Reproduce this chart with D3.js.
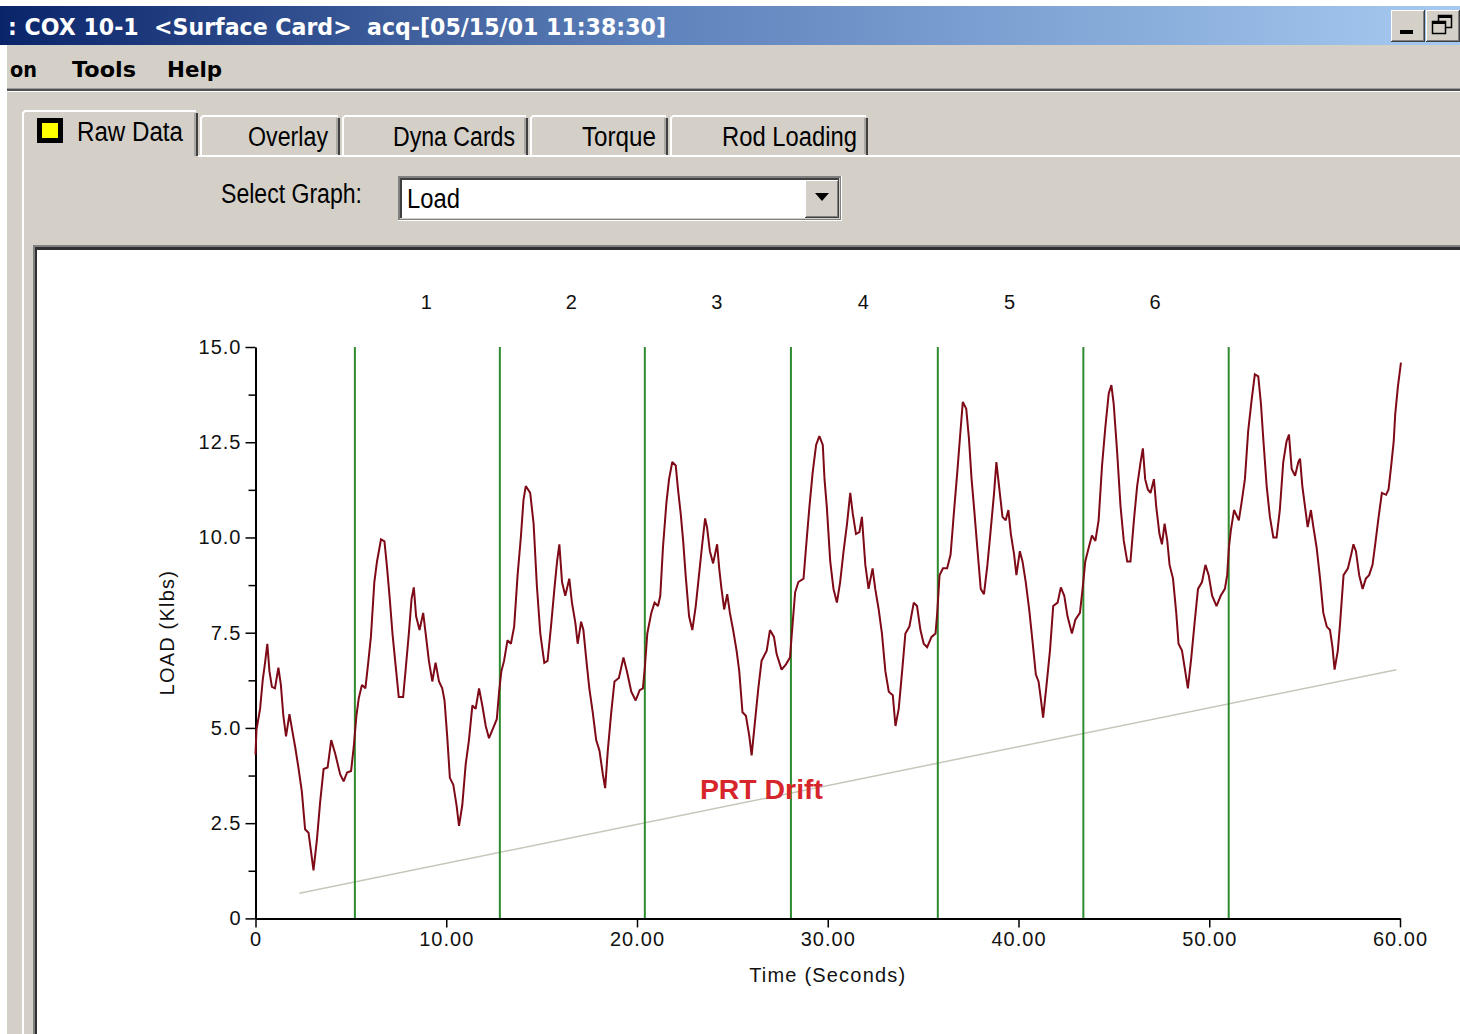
<!DOCTYPE html>
<html>
<head>
<meta charset="utf-8">
<script src="https://cdn.jsdelivr.net/npm/d3@7"></script>
<style>
  html, body { margin: 0; padding: 0; background: #ffffff; }
  svg { display: block; }
</style>
</head>
<body>
<div id="app"></div>
<script>
// ---- Load trace (time in seconds, load in Klbs) ----
const timeSec = [
  0.00,0.05,0.24,0.38,0.50,0.62,0.73,0.86,1.02,1.20,1.33,1.46,1.60,1.78,1.92,2.08,2.25,2.43,2.60,2.78,
  2.90,3.04,3.22,3.39,3.57,3.78,3.97,4.18,4.44,4.62,4.80,5.01,5.15,5.29,5.41,5.58,5.76,5.90,6.05,6.23,
  6.37,6.58,6.76,6.90,7.04,7.18,7.34,7.51,7.74,7.88,8.04,8.18,8.30,8.42,8.60,8.79,8.92,9.09,9.27,9.44,
  9.62,9.79,9.91,10.05,10.19,10.37,10.54,10.67,10.84,11.02,11.19,11.37,11.54,11.72,11.89,12.07,12.24,12.42,12.65,12.77,
  12.89,13.03,13.21,13.39,13.56,13.74,13.91,14.05,14.17,14.40,14.58,14.75,14.93,15.14,15.31,15.49,15.67,15.81,15.93,16.07,
  16.24,16.45,16.59,16.77,16.89,17.07,17.19,17.33,17.50,17.68,17.86,18.03,18.21,18.33,18.47,18.65,18.82,19.05,19.29,19.47,
  19.70,19.93,20.14,20.31,20.41,20.54,20.75,20.92,21.10,21.22,21.36,21.54,21.68,21.85,22.03,22.15,22.29,22.42,22.55,22.73,
  22.90,23.08,23.25,23.40,23.57,23.67,23.82,23.99,24.20,24.31,24.43,24.57,24.73,24.87,25.04,25.22,25.36,25.53,25.71,25.89,
  26.01,26.18,26.36,26.53,26.80,26.97,27.18,27.32,27.58,27.81,28.02,28.16,28.29,28.46,28.73,28.86,29.04,29.21,29.39,29.56,
  29.74,29.83,29.95,30.13,30.30,30.48,30.65,30.83,31.01,31.18,31.31,31.48,31.66,31.79,31.97,32.14,32.35,32.49,32.67,32.84,
  33.02,33.20,33.41,33.55,33.72,33.90,34.07,34.28,34.51,34.68,34.86,35.03,35.21,35.44,35.65,35.74,35.86,36.04,36.26,36.44,
  36.61,36.79,36.93,37.08,37.26,37.40,37.54,37.68,37.84,38.02,38.19,38.37,38.54,38.72,38.84,38.98,39.16,39.33,39.47,39.60,
  39.77,39.89,40.07,40.21,40.38,40.56,40.73,40.91,41.05,41.17,41.29,41.47,41.65,41.82,42.05,42.22,42.40,42.57,42.80,42.98,
  43.22,43.36,43.50,43.68,43.85,44.03,44.20,44.38,44.55,44.73,44.87,44.99,45.17,45.35,45.52,45.70,45.87,46.05,46.22,46.40,
  46.52,46.64,46.78,46.92,47.10,47.22,47.39,47.52,47.66,47.80,47.92,48.10,48.27,48.39,48.57,48.74,48.88,49.06,49.23,49.41,
  49.62,49.80,49.97,50.15,50.38,50.60,50.82,50.94,51.03,51.13,51.30,51.55,51.69,51.87,52.04,52.22,52.39,52.57,52.71,52.83,
  53.01,53.18,53.36,53.53,53.70,53.88,54.05,54.18,54.32,54.50,54.67,54.76,54.88,55.02,55.16,55.33,55.46,55.63,55.81,55.98,
  56.16,56.33,56.46,56.57,56.74,56.86,57.04,57.27,57.44,57.56,57.69,57.86,58.04,58.21,58.38,58.56,58.70,58.88,59.05,59.27,
  59.40,59.54,59.67,59.75,59.89,60.05
];
const loadKlbs = [
  4.30,4.95,5.50,6.26,6.71,7.21,6.49,6.08,6.04,6.58,6.13,5.32,4.78,5.36,4.95,4.50,3.96,3.33,2.34,2.25,
  1.80,1.26,2.07,3.06,3.92,3.96,4.68,4.32,3.78,3.60,3.83,3.87,4.50,5.32,5.77,6.13,6.04,6.67,7.39,8.83,
  9.37,9.95,9.90,9.19,8.38,7.48,6.67,5.81,5.81,6.58,7.48,8.38,8.69,7.93,7.57,8.02,7.48,6.76,6.22,6.71,
  6.22,6.04,5.72,4.78,3.69,3.51,2.97,2.43,2.97,4.05,4.68,5.59,5.50,6.04,5.59,5.05,4.73,4.95,5.23,5.95,
  6.49,6.76,7.30,7.21,7.66,9.01,10.00,10.99,11.35,11.17,10.36,8.74,7.48,6.71,6.76,7.66,8.65,9.37,9.82,8.83,
  8.47,8.92,8.29,7.75,7.21,7.79,7.57,6.85,6.04,5.41,4.68,4.41,3.78,3.42,4.41,5.41,6.22,6.31,6.85,6.49,
  5.95,5.72,5.99,6.04,6.58,7.48,8.02,8.29,8.20,8.47,9.73,10.90,11.53,11.98,11.89,11.26,10.63,9.91,9.01,7.93,
  7.57,8.20,9.01,9.73,10.50,10.27,9.64,9.32,9.82,9.19,8.65,8.11,8.51,8.02,7.57,7.03,6.49,5.41,5.32,4.78,
  4.28,5.14,6.04,6.76,7.03,7.57,7.39,6.94,6.53,6.67,6.85,7.75,8.56,8.83,8.92,9.73,10.81,11.71,12.43,12.66,
  12.43,11.53,10.81,9.37,8.65,8.29,8.83,9.64,10.36,11.17,10.63,10.09,10.14,10.54,9.28,8.65,9.19,8.65,8.11,7.48,
  6.49,5.95,5.86,5.05,5.50,6.49,7.48,7.66,8.29,8.20,7.57,7.21,7.12,7.39,7.48,8.02,9.01,9.19,9.19,9.55,
  10.63,11.71,12.61,13.56,13.38,12.61,11.53,10.72,9.73,8.65,8.51,9.28,10.18,11.17,11.98,11.35,10.54,10.45,10.72,10.09,
  9.55,9.01,9.64,9.37,8.83,8.11,7.30,6.40,6.22,5.77,5.27,6.13,7.03,8.20,8.29,8.69,8.47,7.93,7.48,7.84,
  8.02,8.65,9.37,9.73,10.05,9.91,10.45,11.89,12.88,13.78,14.00,13.51,12.25,10.81,9.91,9.37,9.37,10.45,11.35,11.98,
  12.34,11.53,11.26,11.17,11.53,10.81,10.09,9.82,10.36,9.91,9.28,8.92,8.02,7.21,7.03,6.49,6.04,6.85,7.75,8.65,
  8.83,9.28,9.01,8.47,8.20,8.47,8.65,9.01,9.73,10.18,10.72,10.45,10.90,11.53,12.79,13.60,14.28,14.23,13.51,12.61,
  11.35,10.54,10.00,10.00,10.72,11.98,12.52,12.70,11.80,11.62,11.98,12.07,11.35,10.81,10.27,10.72,10.27,9.73,8.92,8.02,
  7.66,7.57,7.12,6.53,7.03,7.75,9.01,9.19,9.55,9.82,9.64,9.01,8.65,8.92,9.01,9.28,9.82,10.54,11.17,11.12,
  11.26,11.89,12.52,13.24,13.96,14.59
];

// Stroke boundaries (seconds) and stroke numbers
const cycleMarks = [5.21, 12.81, 20.41, 28.07, 35.77, 43.40, 51.02];
const cycleLabels = ["1", "2", "3", "4", "5", "6"];

// Polished-rod drift trend line
const driftTime = [2.30, 59.81];
const driftLoad = [0.66, 6.53];
const driftLabel = "PRT Drift";
const driftLabelAt = [23.30, 3.13];

// Axes
const yTicks = [0, 2.5, 5, 7.5, 10, 12.5, 15];
const yMinorTicks = [1.25, 3.75, 6.25, 8.75, 11.25, 13.75];
const xTicks = [0, 10, 20, 30, 40, 50, 60];
const yTitle = "LOAD (Klbs)";
const xTitle = "Time (Seconds)";

// Window chrome text
const captionText = ": COX 10-1  <Surface Card>  acq-[05/15/01 11:38:30]";
const menuItems = ["on", "Tools", "Help"];
const tabNames = ["Raw Data", "Overlay", "Dyna Cards", "Torque", "Rod Loading"];
const selectLabel = "Select Graph:";
const selectValue = "Load";

// ------------------------------------------------------------
const W = 1460, H = 1034;
const UI = "'Liberation Sans', Arial, sans-serif";
const FACE = "#d4d0c8";

const svg = d3.select("#app").append("svg")
  .attr("width", W).attr("height", H)
  .attr("viewBox", `0 0 ${W} ${H}`);

const defs = svg.append("defs");
const grad = defs.append("linearGradient").attr("id", "caption")
  .attr("x1", 0).attr("x2", 1).attr("y1", 0).attr("y2", 0);
grad.append("stop").attr("offset", 0).attr("stop-color", "#0a246a");
grad.append("stop").attr("offset", 0.45).attr("stop-color", "#5e82bb");
grad.append("stop").attr("offset", 1).attr("stop-color", "#a6caf0");

svg.append("rect").attr("width", W).attr("height", H).attr("fill", "#ffffff");

// window body
svg.append("rect").attr("x", 7).attr("y", 45).attr("width", W - 7).attr("height", H - 45).attr("fill", FACE);

// caption bar
svg.append("rect").attr("x", 0).attr("y", 6).attr("width", W).attr("height", 39).attr("fill", "url(#caption)");
svg.append("text").attr("x", 8).attr("y", 35)
  .attr("font-family", "'DejaVu Sans', Tahoma, sans-serif").attr("font-weight", "bold").attr("font-size", 23)
  .attr("fill", "#ffffff")
  .attr("textLength", 658).attr("lengthAdjust", "spacingAndGlyphs")
  .attr("xml:space", "preserve")
  .text(captionText);

// raised 3D box helper
function raised(g, x, y, w, h) {
  g.append("rect").attr("x", x).attr("y", y).attr("width", w).attr("height", h).attr("fill", "#404040");
  g.append("rect").attr("x", x).attr("y", y).attr("width", w - 1).attr("height", h - 1).attr("fill", "#ffffff");
  g.append("rect").attr("x", x + 1).attr("y", y + 1).attr("width", w - 2).attr("height", h - 2).attr("fill", "#808080");
  g.append("rect").attr("x", x + 1).attr("y", y + 1).attr("width", w - 3).attr("height", h - 3).attr("fill", FACE);
}

// caption buttons
const btns = svg.append("g");
raised(btns, 1391, 10, 34, 32);
btns.append("rect").attr("x", 1400).attr("y", 30).attr("width", 13).attr("height", 4).attr("fill", "#000");
raised(btns, 1426, 10, 34, 32);
btns.append("rect").attr("x", 1438.5).attr("y", 15.5).attr("width", 13).attr("height", 12).attr("fill", "none").attr("stroke", "#000").attr("stroke-width", 1.5);
btns.append("rect").attr("x", 1438).attr("y", 15).attr("width", 14).attr("height", 3).attr("fill", "#000");
btns.append("rect").attr("x", 1432.5).attr("y", 21.5).attr("width", 13).attr("height", 12).attr("fill", FACE).attr("stroke", "#000").attr("stroke-width", 1.5);
btns.append("rect").attr("x", 1432).attr("y", 21).attr("width", 14).attr("height", 3).attr("fill", "#000");

// menu bar
const menuX = [10, 72, 167];
const menuW = [27, 64, 55];
svg.append("g").selectAll("text").data(menuItems).join("text")
  .attr("x", (d, i) => menuX[i]).attr("y", 77)
  .attr("font-family", "'DejaVu Sans', Tahoma, sans-serif").attr("font-weight", "bold").attr("font-size", 22).attr("fill", "#000")
  .attr("textLength", (d, i) => menuW[i]).attr("lengthAdjust", "spacingAndGlyphs")
  .text(d => d);

// menu separator
svg.append("rect").attr("x", 7).attr("y", 88).attr("width", W - 7).attr("height", 1).attr("fill", "#9a9a9a");
svg.append("rect").attr("x", 7).attr("y", 89).attr("width", W - 7).attr("height", 2).attr("fill", "#505050");
svg.append("rect").attr("x", 7).attr("y", 91).attr("width", W - 7).attr("height", 1).attr("fill", "#ffffff");

// tab strip
const tabX0 = [22, 200, 342, 530, 670];
const tabX1 = [198, 340, 528, 668, 868];
const textX = [77, 248, 393, 582, 722];
const textW = [106, 80, 122, 74, 135];
const tabs = svg.append("g");

// page top highlight and left highlight
tabs.append("rect").attr("x", 198).attr("y", 155).attr("width", W - 198).attr("height", 2).attr("fill", "#ffffff");
tabs.append("rect").attr("x", 22).attr("y", 155).attr("width", 2).attr("height", H - 155).attr("fill", "#ffffff");

tabNames.forEach((name, i) => {
  const active = i === 0;
  const x0 = tabX0[i], x1 = tabX1[i];
  const top = active ? 111 : 116;
  const bot = active ? 157 : 155;
  tabs.append("path")
    .attr("d", `M${x0 + 1},${bot} V${top + 2} L${x0 + 3},${top} H${x1 - 2} L${x1},${top + 2} V${bot} Z`)
    .attr("fill", FACE);
  tabs.append("path")
    .attr("d", `M${x0 + 1},${bot} V${top + 2} L${x0 + 3},${top} H${x1 - 2}`)
    .attr("fill", "none").attr("stroke", "#ffffff").attr("stroke-width", 2);
  tabs.append("path")
    .attr("d", `M${x1 - 1},${top + 2} V${bot - (active ? 1 : 0)}`)
    .attr("fill", "none").attr("stroke", "#404040").attr("stroke-width", 2);
  tabs.append("path")
    .attr("d", `M${x1 - 3},${top + 2} V${bot - 1}`)
    .attr("fill", "none").attr("stroke", "#808080").attr("stroke-width", 1);
  tabs.append("text")
    .attr("x", textX[i]).attr("y", active ? 141 : 146)
    .attr("font-family", UI).attr("font-size", 27).attr("fill", "#000")
    .attr("textLength", textW[i]).attr("lengthAdjust", "spacingAndGlyphs")
    .text(name);
});

// active tab marker
tabs.append("rect").attr("x", 37).attr("y", 118).attr("width", 26).attr("height", 25).attr("fill", "#000");
tabs.append("rect").attr("x", 42).attr("y", 123).attr("width", 16).attr("height", 15).attr("fill", "#ffff00");

// graph selector
svg.append("text").attr("x", 221).attr("y", 203)
  .attr("font-family", UI).attr("font-size", 27).attr("fill", "#000")
  .attr("textLength", 141).attr("lengthAdjust", "spacingAndGlyphs")
  .text(selectLabel);

const combo = svg.append("g");
combo.append("rect").attr("x", 398).attr("y", 176).attr("width", 444).attr("height", 45).attr("fill", "#ffffff");
combo.append("rect").attr("x", 398).attr("y", 176).attr("width", 443).attr("height", 44).attr("fill", "#808080");
combo.append("rect").attr("x", 400).attr("y", 178).attr("width", 440).attr("height", 41).attr("fill", FACE);
combo.append("rect").attr("x", 400).attr("y", 178).attr("width", 439).attr("height", 40).attr("fill", "#404040");
combo.append("rect").attr("x", 402).attr("y", 180).attr("width", 437).attr("height", 38).attr("fill", "#ffffff");
combo.append("text").attr("x", 407).attr("y", 208)
  .attr("font-family", UI).attr("font-size", 27).attr("fill", "#000")
  .attr("textLength", 53).attr("lengthAdjust", "spacingAndGlyphs")
  .text(selectValue);
raised(combo, 805, 180, 34, 38);
combo.append("path").attr("d", "M815,193 H829 L822,201 Z").attr("fill", "#000");

// chart panel (sunken)
svg.append("rect").attr("x", 33).attr("y", 245).attr("width", W - 33).attr("height", H - 245).attr("fill", "#808080");
svg.append("rect").attr("x", 35).attr("y", 247).attr("width", W - 35).attr("height", H - 247).attr("fill", "#303030");
svg.append("rect").attr("x", 37).attr("y", 250).attr("width", W - 37).attr("height", H - 250).attr("fill", "#ffffff");

// ---------------- chart ----------------
const x = d3.scaleLinear().domain([0, 60]).range([255.5, 1400]);
const y = d3.scaleLinear().domain([0, 15]).range([918.4, 347]);
const CH = "'Liberation Sans', Arial, sans-serif";

const plot = svg.append("g");

// drift trend
plot.append("line")
  .attr("x1", x(driftTime[0])).attr("y1", y(driftLoad[0]))
  .attr("x2", x(driftTime[1])).attr("y2", y(driftLoad[1]))
  .attr("stroke", "#c6c6ba").attr("stroke-width", 1.5);

// stroke boundaries
plot.append("g").selectAll("line").data(cycleMarks).join("line")
  .attr("x1", d => x(d)).attr("x2", d => x(d))
  .attr("y1", y(15)).attr("y2", y(0))
  .attr("stroke", "#2e8b2e").attr("stroke-width", 2);

// stroke numbers
plot.append("g").selectAll("text").data(cycleLabels).join("text")
  .attr("x", (d, i) => x((cycleMarks[i] + cycleMarks[i + 1]) / 2) - 1)
  .attr("y", 302)
  .attr("text-anchor", "middle").attr("dominant-baseline", "central")
  .attr("font-family", CH).attr("font-size", 20).attr("fill", "#111")
  .text(d => d);

// axes
function styleAxis(g) {
  g.select(".domain").attr("stroke", "#000").attr("stroke-width", 2);
  g.selectAll(".tick line").attr("stroke", "#000").attr("stroke-width", 1.5);
  g.selectAll(".tick text").attr("font-family", CH).attr("font-size", 20)
    .attr("letter-spacing", "1px").attr("fill", "#111");
}

plot.append("g").attr("transform", `translate(${x(0)},0)`)
  .call(d3.axisLeft(y).tickValues(yMinorTicks).tickSize(7).tickFormat(""))
  .call(g => g.select(".domain").remove())
  .call(g => g.selectAll(".tick line").attr("stroke", "#000").attr("stroke-width", 1.5));

plot.append("g").attr("transform", `translate(${x(0)},0)`)
  .call(d3.axisLeft(y).tickValues(yTicks).tickSize(10).tickSizeOuter(0).tickPadding(4)
    .tickFormat(d => d === 0 ? "0" : d3.format(".1f")(d)))
  .call(styleAxis);

plot.append("g").attr("transform", `translate(0,${y(0)})`)
  .call(d3.axisBottom(x).tickValues(xTicks).tickSize(9).tickSizeOuter(0).tickPadding(4)
    .tickFormat(d => d === 0 ? "0" : d3.format(".2f")(d)))
  .call(styleAxis);

plot.append("text")
  .attr("transform", `translate(167,${y(7.5)}) rotate(-90)`)
  .attr("text-anchor", "middle").attr("dominant-baseline", "central")
  .attr("font-family", CH).attr("font-size", 20).attr("letter-spacing", "1.2px").attr("fill", "#111")
  .text(yTitle);

plot.append("text")
  .attr("x", x(30)).attr("y", 975)
  .attr("text-anchor", "middle").attr("dominant-baseline", "central")
  .attr("font-family", CH).attr("font-size", 20).attr("letter-spacing", "1.2px").attr("fill", "#111")
  .text(xTitle);

// load trace
const series = timeSec.map((t, i) => [t, loadKlbs[i]]);
plot.append("path")
  .datum(series)
  .attr("d", d3.line().x(d => x(d[0])).y(d => y(d[1])).curve(d3.curveLinear))
  .attr("fill", "none").attr("stroke", "#7d0a16").attr("stroke-width", 2)
  .attr("stroke-linejoin", "miter").attr("stroke-miterlimit", 2);

// drift annotation
plot.append("text")
  .attr("x", x(driftLabelAt[0])).attr("y", y(driftLabelAt[1]))
  .attr("font-family", CH).attr("font-weight", "bold").attr("font-size", 27)
  .attr("fill", "#d7262b")
  .attr("textLength", 123).attr("lengthAdjust", "spacingAndGlyphs")
  .text(driftLabel);
</script>
</body>
</html>
